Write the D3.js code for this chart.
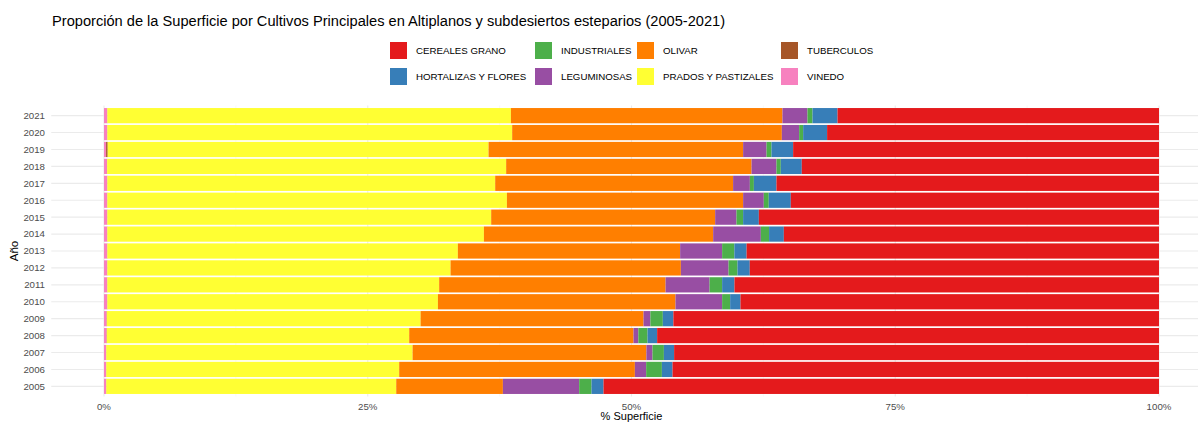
<!DOCTYPE html>
<html><head><meta charset="utf-8">
<script src="https://cdn.jsdelivr.net/npm/d3@7"></script>
<style>
body{margin:0;background:#fff;}
svg{display:block;font-family:"Liberation Sans",Arial,sans-serif;}
</style></head>
<body>
<svg id="chart" width="1198" height="423"></svg>
<script>
const years = [2005,2006,2007,2008,2009,2010,2011,2012,2013,2014,2015,2016,2017,2018,2019,2020,2021];
const crops = ["CEREALES GRANO","HORTALIZAS Y FLORES","INDUSTRIALES","LEGUMINOSAS","OLIVAR","PRADOS Y PASTIZALES","TUBERCULOS","VINEDO"];
const colors = ["#E41A1C","#377EB8","#4DAF4A","#984EA3","#FF7F00","#FFFF33","#A65628","#F781BF"];
// percent share per year (2005 -> 2021)
const cereales    = [52.65,46.11,45.96,47.57,46.03,39.67,40.24,38.79,39.09,35.56,37.93,34.90,36.26,33.86,34.68,31.46,30.47];
const hortalizas  = [1.14,1.01,0.97,0.91,1.00,0.98,1.17,1.16,1.16,1.40,1.49,2.09,2.14,1.99,2.05,2.27,2.37];
const industriales= [1.17,1.49,1.08,0.87,1.18,0.76,1.19,0.85,1.16,0.78,0.63,0.47,0.38,0.41,0.47,0.38,0.48];
const leguminosas = [7.23,1.07,0.58,0.46,0.65,4.42,4.17,4.52,3.98,4.52,2.02,1.96,1.59,2.36,2.22,1.64,2.37];
const olivar      = [10.11,22.34,22.16,21.26,21.13,22.52,21.46,21.83,21.07,21.73,21.23,22.39,22.55,23.26,24.13,25.56,25.74];
const prados      = [27.48,27.76,29.03,28.66,29.74,31.33,31.45,32.53,33.22,35.69,36.38,37.87,36.76,37.82,36.10,38.37,38.25];
const tuberculos  = [0.02,0.02,0.02,0.02,0.02,0.02,0.02,0.02,0.02,0.02,0.02,0.02,0.02,0.02,0.15,0.02,0.02];
const vinedo      = [0.20,0.20,0.20,0.25,0.25,0.30,0.30,0.30,0.30,0.30,0.30,0.30,0.30,0.28,0.20,0.30,0.30];
const xTicks = [0,0.25,0.5,0.75,1];
const xTickLabels = ["0%","25%","50%","75%","100%"];
const xMinor = [0.125,0.375,0.625,0.875];
const titleText = "Proporción de la Superficie por Cultivos Principales en Altiplanos y subdesiertos esteparios (2005-2021)";

const series = [cereales,hortalizas,industriales,leguminosas,olivar,prados,tuberculos,vinedo];
const rows = years.map((y,i)=>{const r={year:y}; crops.forEach((c,k)=>r[c]=series[k][i]); return r;});
// stack from left: VINEDO first ... CEREALES last (rightmost)
const stackKeys = crops.slice().reverse();
const stacked = d3.stack().keys(stackKeys).offset(d3.stackOffsetExpand)(rows);
const color = d3.scaleOrdinal().domain(crops).range(colors);

const svg = d3.select("#chart");
const panel = {left:51.25, right:1211.75, top:105.5, bottom:396.5};
const x = d3.scaleLinear().domain([-0.05,1.05]).range([panel.left,panel.right]);
const y = d3.scalePoint().domain(years.slice().reverse().map(String)).range([panel.top,panel.bottom]).padding(0.6);
const bh = y.step()*0.9;

// grid
const g = svg.append("g");
g.selectAll(".minor").data(xMinor).join("line")
 .attr("x1",d=>x(d)).attr("x2",d=>x(d)).attr("y1",panel.top).attr("y2",panel.bottom)
 .attr("stroke","#f5f5f5").attr("stroke-width",0.6);
g.selectAll(".major").data(xTicks).join("line")
 .attr("x1",d=>x(d)).attr("x2",d=>x(d)).attr("y1",panel.top).attr("y2",panel.bottom)
 .attr("stroke","#ebebeb").attr("stroke-width",1.1);
g.selectAll(".hmajor").data(y.domain()).join("line")
 .attr("x1",panel.left).attr("x2",panel.right).attr("y1",d=>y(d)).attr("y2",d=>y(d))
 .attr("stroke","#ebebeb").attr("stroke-width",1.1);

// bars
svg.append("g").selectAll("g").data(stacked).join("g")
 .attr("fill",d=>color(d.key))
 .selectAll("rect").data(d=>d).join("rect")
 .attr("x",d=>x(d[0])).attr("width",d=>Math.max(0,x(d[1])-x(d[0])))
 .attr("y",d=>y(String(d.data.year))-bh/2).attr("height",bh);

// axes text
svg.append("g").selectAll("text").data(y.domain()).join("text")
 .attr("x",45).attr("y",d=>y(d)).attr("dy","0.35em").attr("text-anchor","end")
 .attr("font-size","9.7px").attr("fill","#4D4D4D").text(d=>d);
svg.append("g").selectAll("text").data(xTicks).join("text")
 .attr("x",d=>x(d)).attr("y",410).attr("text-anchor","middle")
 .attr("font-size","9.7px").attr("fill","#4D4D4D").text((d,i)=>xTickLabels[i]);
svg.append("text").attr("transform","translate(18,251) rotate(-90)").attr("text-anchor","middle")
 .attr("font-size","11.5px").attr("fill","#000").text("Año");
svg.append("text").attr("x",x(0.5)).attr("y",420).attr("text-anchor","middle")
 .attr("font-size","11px").attr("fill","#000").text("% Superficie");

// title
const title = svg.append("text").attr("x",52).attr("y",26).attr("font-size","13px").attr("fill","#000").text(titleText);
const tw = title.node().getComputedTextLength();
title.attr("font-size",(13*674/tw)+"px");

// legend
const legCols = [390,535,637,781];
const legRows = [42,68];
const leg = svg.append("g");
crops.forEach((c,i)=>{
  const col = Math.floor(i/2), row = i%2;
  leg.append("rect").attr("x",legCols[col]).attr("y",legRows[row]).attr("width",17).attr("height",17).attr("fill",color(c));
  leg.append("text").attr("x",legCols[col]+26).attr("y",legRows[row]+8.5).attr("dy","0.35em")
   .attr("font-size","9.7px").attr("fill","#000").text(c);
});
</script>
</body></html>
